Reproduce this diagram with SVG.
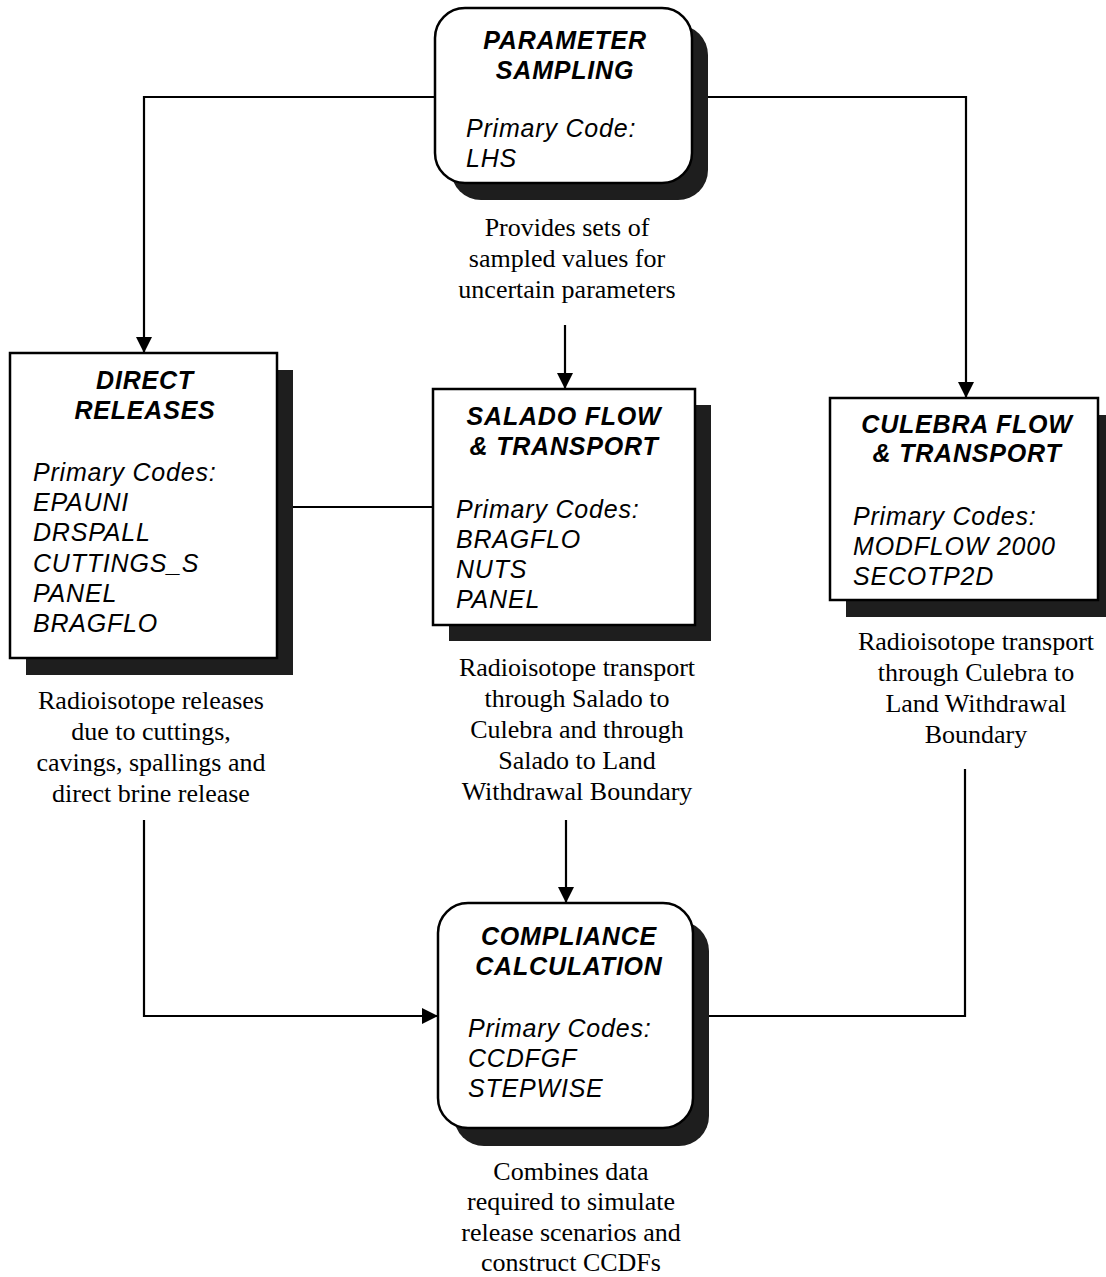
<svg xmlns="http://www.w3.org/2000/svg" width="1106" height="1277" viewBox="0 0 1106 1277">
<style>
.box{fill:#fff;stroke:#000;stroke-width:2.5}
.shadow{fill:#1e1e1e}
.title{font-family:"Liberation Sans",Arial,sans-serif;font-weight:bold;font-style:italic;font-size:25px;letter-spacing:0.8px;text-anchor:middle;fill:#000}
.code{font-family:"Liberation Sans",Arial,sans-serif;font-style:italic;font-size:25px;letter-spacing:0.8px;fill:#000}
.label{font-family:"Liberation Serif","Times New Roman",serif;font-size:26px;text-anchor:middle;fill:#000}
.conn{fill:none;stroke:#000;stroke-width:2.2}
</style>
<defs>
<marker id="arrow" markerUnits="userSpaceOnUse" markerWidth="16" markerHeight="16" viewBox="0 0 16 16" refX="16" refY="8" orient="auto">
<path d="M0,0 L16,8 L0,16 Z" fill="#000"/>
</marker>
</defs>
<rect width="1106" height="1277" fill="#fff"/>

<g id="connectors">
<path class="conn" d="M435,97 H144 V353" marker-end="url(#arrow)"/>
<path class="conn" d="M692,97 H966 V398" marker-end="url(#arrow)"/>
<path class="conn" d="M565,325 V389" marker-end="url(#arrow)"/>
<path class="conn" d="M293,507 H433"/>
<path class="conn" d="M566,820 V903" marker-end="url(#arrow)"/>
<path class="conn" d="M144,820 V1016 H438" marker-end="url(#arrow)"/>
<path class="conn" d="M965,769 V1016 H709"/>
</g>

<g id="parameter-sampling">
<rect class="shadow" x="451" y="25" width="257" height="175" rx="30"/>
<rect class="box" x="435" y="8" width="257" height="175" rx="30"/>
<text class="title" x="565" y="49">PARAMETER</text>
<text class="title" x="565" y="79">SAMPLING</text>
<text class="code" x="466" y="137">Primary Code:</text>
<text class="code" x="466" y="167">LHS</text>
<text class="label" x="567" y="236">Provides sets of</text>
<text class="label" x="567" y="267">sampled values for</text>
<text class="label" x="567" y="298">uncertain parameters</text>
</g>

<g id="direct-releases">
<rect class="shadow" x="26" y="370" width="267" height="305"/>
<rect class="box" x="10" y="353" width="267" height="305"/>
<text class="title" x="145" y="389">DIRECT</text>
<text class="title" x="145" y="419">RELEASES</text>
<text class="code" x="33" y="481">Primary Codes:</text>
<text class="code" x="33" y="511">EPAUNI</text>
<text class="code" x="33" y="541">DRSPALL</text>
<text class="code" x="33" y="572">CUTTINGS_S</text>
<text class="code" x="33" y="602">PANEL</text>
<text class="code" x="33" y="632">BRAGFLO</text>
<text class="label" x="151" y="709">Radioisotope releases</text>
<text class="label" x="151" y="740">due to cuttings,</text>
<text class="label" x="151" y="771">cavings, spallings and</text>
<text class="label" x="151" y="802">direct brine release</text>
</g>

<g id="salado-flow">
<rect class="shadow" x="449" y="405" width="262" height="236"/>
<rect class="box" x="433" y="389" width="262" height="236"/>
<text class="title" x="564" y="425">SALADO FLOW</text>
<text class="title" x="564" y="455">&amp; TRANSPORT</text>
<text class="code" x="456" y="518">Primary Codes:</text>
<text class="code" x="456" y="548">BRAGFLO</text>
<text class="code" x="456" y="578">NUTS</text>
<text class="code" x="456" y="608">PANEL</text>
<text class="label" x="577" y="676">Radioisotope transport</text>
<text class="label" x="577" y="707">through Salado to</text>
<text class="label" x="577" y="738">Culebra and through</text>
<text class="label" x="577" y="769">Salado to Land</text>
<text class="label" x="577" y="800">Withdrawal Boundary</text>
</g>

<g id="culebra-flow">
<rect class="shadow" x="846" y="415" width="268" height="202"/>
<rect class="box" x="830" y="398" width="268" height="202"/>
<text class="title" x="967" y="433">CULEBRA FLOW</text>
<text class="title" x="967" y="462">&amp; TRANSPORT</text>
<text class="code" x="853" y="525">Primary Codes:</text>
<text class="code" x="853" y="555">MODFLOW 2000</text>
<text class="code" x="853" y="585">SECOTP2D</text>
<text class="label" x="976" y="650">Radioisotope transport</text>
<text class="label" x="976" y="681">through Culebra to</text>
<text class="label" x="976" y="712">Land Withdrawal</text>
<text class="label" x="976" y="743">Boundary</text>
</g>

<g id="compliance-calculation">
<rect class="shadow" x="454" y="921" width="255" height="225" rx="30"/>
<rect class="box" x="438" y="903" width="255" height="225" rx="30"/>
<text class="title" x="569" y="945">COMPLIANCE</text>
<text class="title" x="569" y="975">CALCULATION</text>
<text class="code" x="468" y="1037">Primary Codes:</text>
<text class="code" x="468" y="1067">CCDFGF</text>
<text class="code" x="468" y="1097">STEPWISE</text>
<text class="label" x="571" y="1180">Combines data</text>
<text class="label" x="571" y="1210">required to simulate</text>
<text class="label" x="571" y="1241">release scenarios and</text>
<text class="label" x="571" y="1271">construct CCDFs</text>
</g>
</svg>
